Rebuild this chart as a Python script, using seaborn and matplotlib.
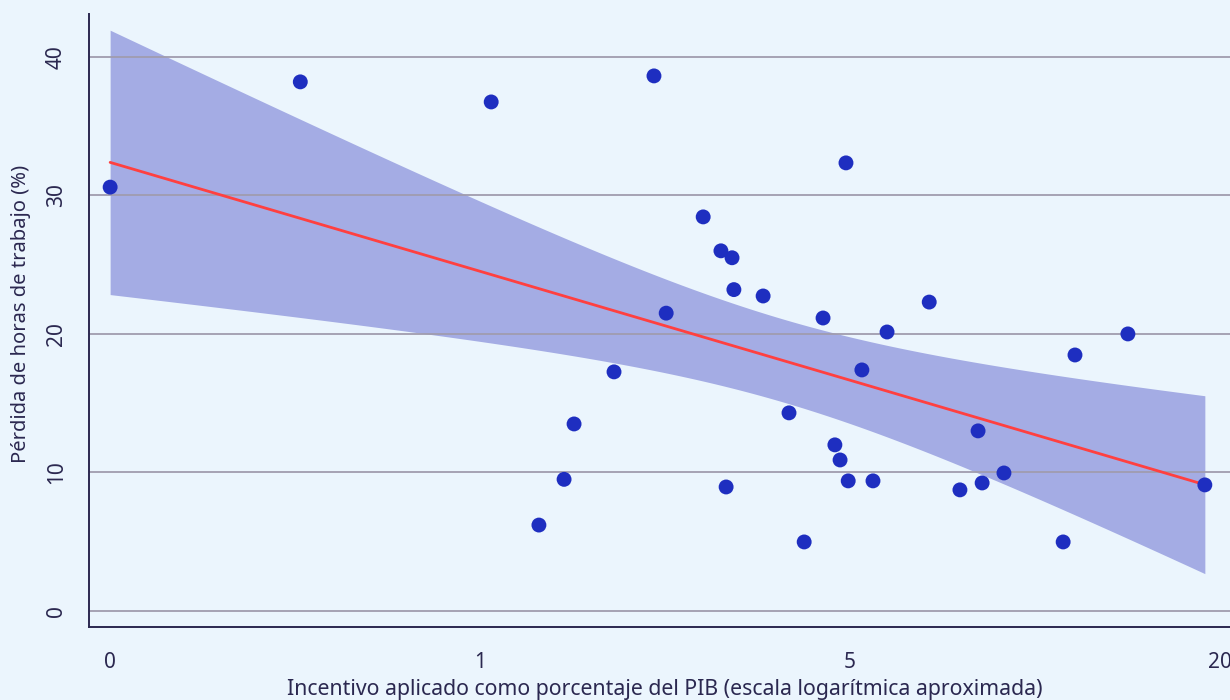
import matplotlib
matplotlib.use("Agg")
import matplotlib.pyplot as plt
import seaborn as sns
import numpy as np
import pandas as pd

# posicion en el eje (escala aproximada: 0 -> 0, 1 -> 1, 2 -> 5, 3 -> 20)
incentivo_pos = [0.0, 0.514, 1.03, 1.159, 1.227, 1.254, 1.362, 1.470, 1.503, 1.603,
                 1.651, 1.665, 1.681, 1.686, 1.765, 1.835, 1.876, 1.927, 1.959, 1.973,
                 1.989, 1.995, 2.032, 2.062, 2.100, 2.214, 2.297, 2.346, 2.357, 2.416,
                 2.576, 2.608, 2.751, 2.959]
perdida_horas = [30.6, 38.2, 36.75, 6.2, 9.5, 13.5, 17.26, 38.63, 21.5, 28.45,
                 26.0, 8.95, 25.5, 23.2, 22.74, 14.3, 4.98, 21.15, 11.99, 10.9,
                 32.35, 9.39, 17.4, 9.39, 20.14, 22.3, 8.74, 13.0, 9.24, 9.96,
                 4.98, 18.48, 20.0, 9.1]
tick_pos = [0, 1, 2, 3]
tick_labels = ["0", "1", "5", "20"]

df = pd.DataFrame({"x": incentivo_pos, "y": perdida_horas})

bg = "#ebf5fd"
ink = "#2b2850"
sns.set_theme(style="white")
plt.rcParams["font.family"] = ["Noto Sans", "DejaVu Sans"]

fig = plt.figure(figsize=(12.3, 7), dpi=100, facecolor=bg)
ax = fig.add_axes([0.0724, 0.1043, 0.9276, 0.8757])
ax.set_facecolor(bg)

# banda de confianza 95% (MCO, analitica)
x = df["x"].to_numpy()
y = df["y"].to_numpy()
n = len(x)
b1, b0 = np.polyfit(x, y, 1)
resid = y - (b0 + b1 * x)
s = np.sqrt((resid ** 2).sum() / (n - 2))
grid = np.linspace(x.min(), x.max(), 200)
se = s * np.sqrt(1 / n + (grid - x.mean()) ** 2 / ((x - x.mean()) ** 2).sum())
t = 2.037
fit = b0 + b1 * grid
ax.fill_between(grid, fit - t * se, fit + t * se, color="#a4ace4", lw=0, zorder=0.3)

sns.regplot(data=df, x="x", y="y", ax=ax, scatter=False, ci=None,
            line_kws={"color": "#ff4040", "lw": 2, "zorder": 2})

sns.scatterplot(data=df, x="x", y="y", ax=ax, color="#1e2ec0", s=115,
                edgecolor="none", zorder=3)

ax.set_xlim(-0.057, 3.027)
ax.set_ylim(-1.16, 43.1)
ax.set_xticks(tick_pos)
ax.set_xticklabels(tick_labels)
ax.set_yticks([0, 10, 20, 30, 40])
ax.grid(axis="y", color="#a09cae", lw=1.3)
ax.set_axisbelow(True)

for sp in ["top", "right"]:
    ax.spines[sp].set_visible(False)
for sp in ["left", "bottom"]:
    ax.spines[sp].set_color(ink)
    ax.spines[sp].set_linewidth(1.4)

ax.tick_params(axis="y", length=9, width=1.3, color="#8a86a0", labelsize=15,
               labelcolor=ink, pad=7, labelrotation=90)
ax.tick_params(axis="x", length=7, width=1.3, color=ink, labelsize=15,
               labelcolor=ink, pad=11)
for lab in ax.get_yticklabels():
    lab.set_va("center")

ax.set_xlabel("Incentivo aplicado como porcentaje del PIB (escala logarítmica aproximada)",
              fontsize=15.3, color=ink, labelpad=3)
ax.set_ylabel("Pérdida de horas de trabajo (%)", fontsize=14.5, color=ink)
ax.xaxis.set_label_coords(0.505, -0.085)
ax.yaxis.set_label_coords(-0.051, 0.511)

fig.savefig("out.png", dpi=100, facecolor=bg)
